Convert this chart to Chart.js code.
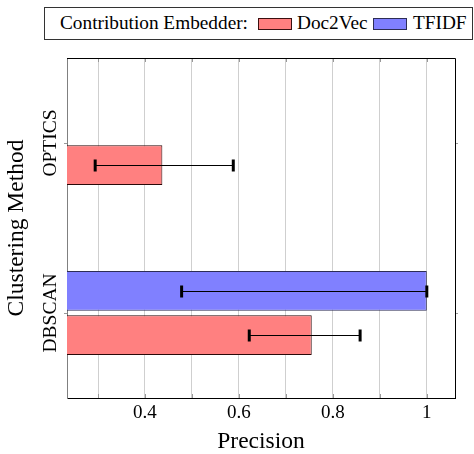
<!DOCTYPE html>
<html>
<head>
<meta charset="utf-8">
<script src="https://cdn.jsdelivr.net/npm/chart.js@4"></script>
<style>
	body { margin: 0; background: #fff; }
	#wrap { position: relative; width: 474px; height: 454px; }
	#legend {
		position: absolute; left: 44px; top: 7px; width: 427px; height: 31px;
		border: 1px solid #333; background: #fff;
		font-family: 'Liberation Serif', 'Times New Roman', serif; font-size: 19.3px; color: #000;
		white-space: nowrap;
	}
	#legend span { position: absolute; }
	#legend .txt { top: 3px; line-height: 24px; }
	#legend .sw { top: 10px; width: 32px; height: 10px; border: 1px solid #222; }
</style>
</head>
<body>
<div id="wrap">
	<canvas id="chart" width="474" height="454"></canvas>
	<div id="legend"></div>
</div>
<script>
// values
const methods = ['OPTICS', 'DBSCAN']
const doc2vecMean = [0.437, 0.755]
const doc2vecLow = [0.294, 0.622]
const doc2vecHigh = [0.588, 0.858]
const tfidfMean = [null, 1.0]
const tfidfLow = [null, 0.478]
const tfidfHigh = [null, 1.0]
const legendTitle = 'Contribution Embedder:'

const serif = "'Liberation Serif', 'Times New Roman', serif"
const RED = '#ff8080', BLUE = '#8080ff'

// html legend, pgfplots style (x offsets inside the box)
const leg = document.getElementById('legend')
const addText = (t, x) => { const s = document.createElement('span'); s.className = 'txt'; s.textContent = t; s.style.left = x + 'px'; leg.appendChild(s) }
const addSwatch = (fill, edge, x) => { const s = document.createElement('span'); s.className = 'sw'; s.style.left = x + 'px'; s.style.background = fill; s.style.borderColor = edge; leg.appendChild(s) }
addText(legendTitle, 15)
addSwatch(RED, '#3a1010', 213); addText('Doc2Vec', 252)
addSwatch(BLUE, '#2d2d55', 328); addText('TFIDF', 368)

const errBars = {
	id: 'errBars',
	afterDatasetsDraw(chart){
		const ctx = chart.ctx, xs = chart.scales.x
		const lows = [tfidfLow, doc2vecLow], highs = [tfidfHigh, doc2vecHigh]
		chart.data.datasets.forEach((ds, di) => {
			chart.getDatasetMeta(di).data.forEach((bar, i) => {
				if(ds.data[i] === null || lows[di][i] === null) return
				const x1 = xs.getPixelForValue(lows[di][i]), x2 = xs.getPixelForValue(highs[di][i]), y = Math.round(bar.y) + 0.5
				ctx.save()
				ctx.strokeStyle = '#000'; ctx.lineWidth = 1
				ctx.beginPath(); ctx.moveTo(x1, y); ctx.lineTo(x2, y); ctx.stroke()
				ctx.lineWidth = 3
				;[x1, x2].forEach(x => { ctx.beginPath(); ctx.moveTo(x, y - 6); ctx.lineTo(x, y + 6); ctx.stroke() })
				ctx.restore()
			})
		})
	}
}

const frame = {
	id: 'frame',
	afterDraw(chart){
		const ctx = chart.ctx, a = chart.chartArea, xs = chart.scales.x, ys = chart.scales.y
		ctx.save()
		// inner ticks on x
		ctx.strokeStyle = '#999'; ctx.lineWidth = 1
		xs.ticks.forEach(t => {
			const x = Math.round(xs.getPixelForValue(t.value)) + 0.5
			ctx.beginPath(); ctx.moveTo(x, a.bottom); ctx.lineTo(x, a.bottom - 4); ctx.moveTo(x, a.top); ctx.lineTo(x, a.top + 4); ctx.stroke()
		})
		// outer ticks on y + rotated labels
		ctx.fillStyle = '#000'
		ctx.font = '19.5px ' + serif
		ctx.textAlign = 'center'; ctx.textBaseline = 'middle'
		methods.forEach((m, i) => {
			const y = Math.round(ys.getPixelForTick(i)) + 0.5
			ctx.beginPath(); ctx.moveTo(a.left - 3, y); ctx.lineTo(a.left, y); ctx.moveTo(a.right, y); ctx.lineTo(a.right + 3, y); ctx.stroke()
			ctx.save(); ctx.translate(a.left - 16, ys.getPixelForTick(i)); ctx.rotate(-Math.PI / 2); ctx.fillText(m, 0, 0); ctx.restore()
		})
		// top and right border
		ctx.strokeStyle = '#000'
		ctx.beginPath(); ctx.moveTo(a.left, a.top + 0.5); ctx.lineTo(a.right + 0.5, a.top + 0.5); ctx.lineTo(a.right + 0.5, a.bottom); ctx.stroke()
		ctx.restore()
	}
}

new Chart(document.getElementById('chart'), {
	type: 'bar',
	data: {
		labels: methods,
		datasets: [
			{ label: 'TFIDF', data: tfidfMean, backgroundColor: BLUE, borderColor: '#2d2d55', borderWidth: 1, borderSkipped: 'start' },
			{ label: 'Doc2Vec', data: doc2vecMean, backgroundColor: RED, borderColor: '#2a0808', borderWidth: 1, borderSkipped: 'start' }
		]
	},
	options: {
		indexAxis: 'y',
		responsive: false, animation: false, devicePixelRatio: 1,
		categoryPercentage: 0.52, barPercentage: 0.9,
		layout: { padding: { top: 58, right: 19, left: 0, bottom: 0 } },
		plugins: { legend: { display: false }, tooltip: { enabled: false } },
		scales: {
			x: {
				type: 'linear', min: 0.234, max: 1.06,
				afterFit(s){ s.height = 56 },
				ticks: {
					stepSize: 0.1, includeBounds: false, padding: 6, color: '#000',
					font: { family: serif, size: 19, lineHeight: 1 },
					callback: v => { const r = Math.round(v * 10); return r % 2 === 0 ? String(r / 10) : '' }
				},
				grid: { color: '#cfcfcf', lineWidth: 1, drawTicks: false },
				border: { color: '#000', width: 1 },
				title: { display: true, text: 'Precision', color: '#000', font: { family: serif, size: 23.5, lineHeight: 1 }, padding: { top: 0, bottom: 0 } }
			},
			y: {
				afterFit(s){ s.width = 67 },
				ticks: { display: false },
				grid: { display: false, offset: false },
				border: { color: '#808080', width: 1 },
				title: { display: true, text: 'Clustering Method', color: '#000', font: { family: serif, size: 23.5, lineHeight: 1 }, padding: { top: 5, bottom: 0 } }
			}
		}
	},
	plugins: [errBars, frame]
})
</script>
</body>
</html>
